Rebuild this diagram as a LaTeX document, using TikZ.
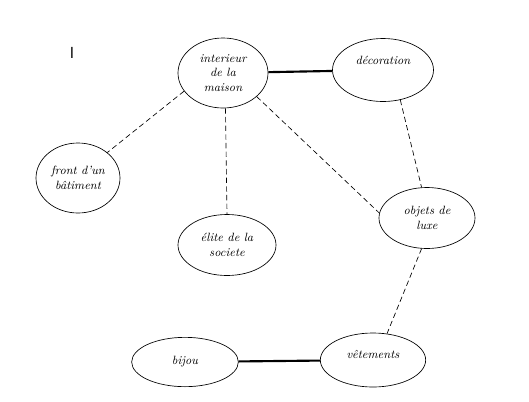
\documentclass[tikz,border=0pt]{standalone}
\usepackage{tikz}
\usetikzlibrary{shapes.geometric, positioning}
\tikzset{
  bulle/.style={ellipse, draw, inner sep=0pt, align=center,
    font=\small\itshape, line width=0.5pt},
  lien/.style={dashed, dash pattern=on 4pt off 2.5pt, line width=0.5pt},
  fort/.style={line width=1.6pt}
}
\begin{document}
\begin{tikzpicture}[x=0.75pt, y=-0.75pt]
  \useasboundingbox (0,0) rectangle (529,401);
  % marque en haut a gauche
  \node[font=\sffamily\large] (marque) at (72,53) {I};

  % les bulles
  \node[bulle, minimum width=67.5pt, minimum height=52.5pt] (interieur) at (223,73) {interieur\\de la\\maison};
  \node[bulle, minimum width=75.75pt, minimum height=47.25pt] (deco) at (383,70) {décoration\\[4pt]\mbox{}};
  \node[bulle, minimum width=63pt, minimum height=52.5pt] (front) at (78,178) {front d'un\\bâtiment};
  \node[bulle, minimum width=73.5pt, minimum height=45.75pt] (elite) at (227,245) {élite de la\\societe};
  \node[bulle, minimum width=72pt, minimum height=45.75pt] (luxe) at (427,218) {objets de\\luxe};
  \node[bulle, minimum width=80pt, minimum height=37pt] (bijou) at (185,362) {bijou};
  \node[bulle, minimum width=79pt, minimum height=40.5pt] (vetements) at (373,360) {vêtements\\[-2pt]\mbox{}};

  % liens forts
  \draw[fort] (interieur) -- (deco);
  \draw[fort] (bijou) -- (vetements);

  % liens en pointilles
  \draw[lien] (interieur.205) -- (front.41);
  \draw[lien] (interieur.-86) -- (elite.90);
  \draw[lien] (interieur.-35) -- (luxe.174);
  \draw[lien] (deco.-60) -- (luxe.100);
  \draw[lien] (luxe.-100) -- (vetements.62);
\end{tikzpicture}
\end{document}
